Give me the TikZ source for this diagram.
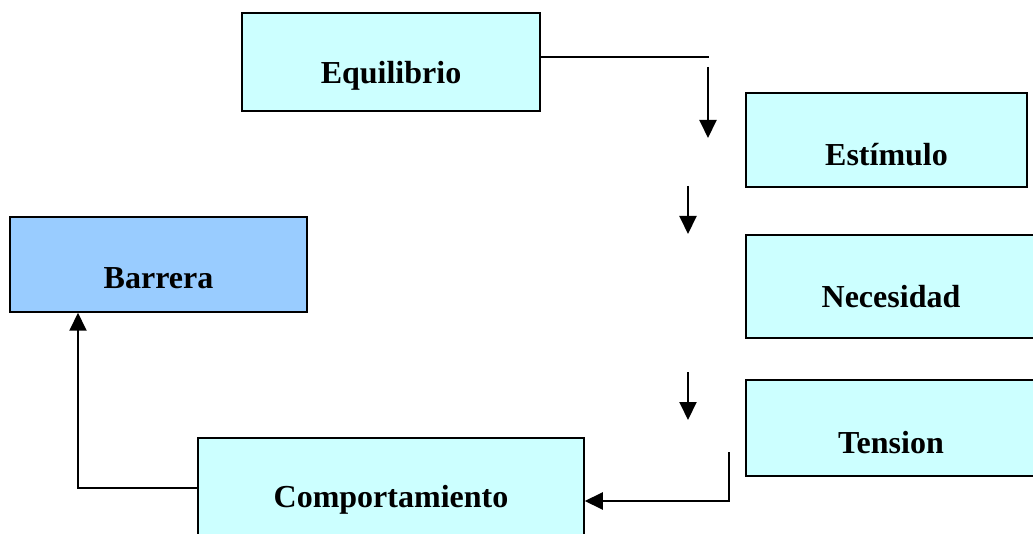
\documentclass[tikz,border=0pt]{standalone}
\usepackage{fontspec}
\setmainfont{Liberation Serif}
\usepackage{xcolor}
\usetikzlibrary{arrows.meta, positioning, calc}
\definecolor{boxcyan}{HTML}{CCFFFF}
\definecolor{boxblue}{HTML}{99CCFF}

\begin{document}
\begin{tikzpicture}[x=1pt, y=-1pt,
  box/.style={draw=black, line width=1.5pt, fill=boxcyan, inner sep=0pt},
  boxtext/.style={font=\fontsize{32}{38}\selectfont\bfseries, yshift=-14pt},
  arr/.style={line width=2pt, -{Triangle[length=18pt, width=17pt]}}
]
  \useasboundingbox (0,0) rectangle (1033,534);
  \clip (0,0) rectangle (1033,534);
  % boxes
  \node[box, minimum width=298pt, minimum height=98pt,
        label={[boxtext]center:Equilibrio}] (equil) at (391,62) {};
  \node[box, minimum width=281pt, minimum height=94pt,
        label={[boxtext, yshift=-1pt]center:Estímulo}] (estim) at (886.5,140) {};
  \node[box, minimum width=292pt, minimum height=103pt,
        label={[boxtext, xshift=-1pt, yshift=4pt]center:Necesidad}] (neces) at (892,286.5) {};
  \node[box, minimum width=292pt, minimum height=96pt,
        label={[boxtext, xshift=-1pt, yshift=-1pt]center:Tension}] (tens) at (892,428) {};
  \node[box, fill=boxblue, minimum width=297pt, minimum height=95pt,
        label={[boxtext]center:Barrera}] (barr) at (158.5,264.5) {};
  \node[box, minimum width=386pt, minimum height=102pt,
        label={[boxtext, yshift=3pt]center:Comportamiento}] (comp) at (391,489) {};
  % free ends of the connectors
  \coordinate (eqEnd) at (709,57);
  \foreach \n/\ya/\yb/\xx in {a/67/138/708, b/186/234/688, c/372/420/688} {
    \coordinate (\n Top) at (\xx,\ya);
    \coordinate (\n Bot) at (\xx,\yb);
  }
  \coordinate (tensEnd) at (729,452);
  % connectors
  \draw[line width=1.5pt] (equil.east |- eqEnd) -- (eqEnd);
  \foreach \n in {a,b,c} {
    \draw[arr] (\n Top) -- (\n Bot);
  }
  \draw[arr] (tensEnd) |- ($(comp.east)+(0,12)$);
  \draw[arr] ($(comp.west)+(0,-1)$) -| (barr.south -| 78,0);
\end{tikzpicture}
\end{document}
